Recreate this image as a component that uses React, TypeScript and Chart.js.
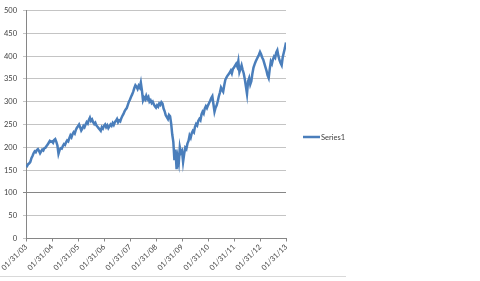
import React, { useEffect, useRef } from "react";
import { Chart, registerables } from "chart.js";

Chart.register(...registerables);

// Year tick labels along the x axis (one per year, at 0..10 years)
const xTickLabels = [
  "01/31/03", "01/31/04", "01/31/05", "01/31/06", "01/31/07", "01/31/08",
  "01/31/09", "01/31/10", "01/31/11", "01/31/12", "01/31/13",
];

const seriesName = "Series1";

// Semi-monthly readings, one list per year (24 values each), plus final point
const y2003 = [161, 159, 163, 165, 168, 176, 181, 187, 191, 189, 194, 196, 192, 187, 191, 195, 193, 198, 199, 203, 206, 210, 214, 212];
const y2004 = [213, 210, 216, 218, 212, 204, 186, 194, 198, 197, 203, 207, 205, 211, 215, 213, 220, 226, 222, 229, 233, 230, 238, 243];
const y2005 = [246, 250, 244, 237, 241, 247, 244, 250, 255, 252, 260, 265, 258, 261, 255, 251, 254, 248, 245, 242, 239, 236, 244, 241];
const y2006 = [247, 250, 244, 248, 242, 246, 250, 247, 253, 249, 255, 258, 262, 255, 259, 257, 264, 269, 273, 279, 283, 286, 293, 300];
const y2007 = [305, 311, 316, 322, 330, 336, 333, 328, 335, 331, 342, 325, 303, 309, 305, 313, 306, 310, 300, 303, 297, 300, 294, 290];
const y2008 = [287, 292, 289, 296, 293, 299, 296, 285, 279, 270, 266, 262, 271, 268, 252, 228, 212, 172, 195, 152, 178, 165, 200, 188];
const y2009 = [192, 168, 185, 199, 196, 208, 214, 226, 221, 231, 236, 233, 245, 251, 248, 258, 262, 259, 272, 278, 274, 285, 290, 286];
const y2010 = [292, 297, 302, 308, 312, 295, 278, 287, 292, 301, 312, 320, 331, 326, 322, 336, 348, 353, 357, 360, 364, 368, 362, 372];
const y2011 = [375, 379, 383, 377, 389, 365, 372, 380, 370, 362, 349, 333, 317, 345, 352, 338, 345, 362, 375, 382, 388, 393, 398, 403];
const y2012 = [409, 404, 397, 392, 384, 376, 368, 358, 352, 372, 388, 383, 393, 399, 396, 408, 413, 400, 391, 385, 380, 398, 408, 418];
const y2013 = [430];

const seriesValues = [
  ...y2003, ...y2004, ...y2005, ...y2006, ...y2007,
  ...y2008, ...y2009, ...y2010, ...y2011, ...y2012, ...y2013,
];

const STEPS_PER_YEAR = 24;
const FONT = "Lato, 'Open Sans', sans-serif";

export default function App() {
  const canvasRef = useRef<HTMLCanvasElement | null>(null);

  useEffect(() => {
    document.body.style.margin = "0";
    const canvas = canvasRef.current;
    if (!canvas) return;

    const points = seriesValues.map((v, i) => ({ x: i / STEPS_PER_YEAR, y: v }));

    const legendAndBorder = {
      id: "legendAndBorder",
      afterDraw(chart: any) {
        const ctx = chart.ctx;
        ctx.save();
        // chart object bottom border
        ctx.strokeStyle = "#d9d9d9";
        ctx.lineWidth = 1;
        ctx.beginPath();
        ctx.moveTo(0, 276.5);
        ctx.lineTo(346, 276.5);
        ctx.stroke();
        // legend
        const ly = 137;
        ctx.strokeStyle = "#4a7ebb";
        ctx.lineWidth = 2.5;
        ctx.beginPath();
        ctx.moveTo(303, ly);
        ctx.lineTo(320, ly);
        ctx.stroke();
        ctx.fillStyle = "#404040";
        ctx.font = `7.5px ${FONT}`;
        ctx.textBaseline = "middle";
        ctx.textAlign = "left";
        ctx.fillText(seriesName, 321, ly + 0.5);
        ctx.restore();
      },
    };

    const chart = new Chart(canvas, {
      type: "line",
      data: {
        datasets: [
          {
            label: seriesName,
            data: points,
            borderColor: "#4a7ebb",
            borderWidth: 2.5,
            pointRadius: 0,
            tension: 0,
            fill: false,
          },
        ],
      },
      options: {
        animation: false,
        responsive: false,
        maintainAspectRatio: false,
        layout: { padding: { top: 6, right: 194, bottom: 0, left: 0 } },
        plugins: {
          legend: { display: false },
          tooltip: { enabled: false },
        },
        scales: {
          x: {
            type: "linear",
            min: 0,
            max: 10,
            afterFit: (scale: any) => {
              scale.height = 42.5;
            },
            afterBuildTicks: (scale: any) => {
              scale.ticks = xTickLabels.map((_, i) => ({ value: i }));
            },
            ticks: {
              autoSkip: false,
              minRotation: 45,
              maxRotation: 45,
              padding: 1,
              color: "#404040",
              font: { family: FONT, size: 7.5 },
              callback: (v: any) => xTickLabels[Math.round(Number(v))] ?? "",
            },
            grid: {
              display: true,
              drawOnChartArea: false,
              drawTicks: true,
              tickLength: 3,
              color: "#868686",
            },
            border: { display: true, color: "#868686", width: 1 },
          },
          y: {
            min: 0,
            max: 500,
            afterFit: (scale: any) => {
              scale.width = 26;
            },
            ticks: {
              stepSize: 50,
              padding: 6,
              color: "#404040",
              font: { family: FONT, size: 7.5 },
            },
            grid: {
              tickLength: 3,
              color: (ctx: any) =>
                ctx.tick && ctx.tick.value === 100 ? "#868686" : "#c4c4c4",
              lineWidth: 1,
            },
            border: { display: true, color: "#868686", width: 1 },
          },
        },
      },
      plugins: [legendAndBorder],
    });

    return () => chart.destroy();
  }, []);

  return (
    <div style={{ position: "absolute", left: 0, top: 0, width: 480, height: 281, background: "#fff" }}>
      <canvas ref={canvasRef} width={480} height={281} style={{ display: "block", width: 480, height: 281 }} />
    </div>
  );
}
